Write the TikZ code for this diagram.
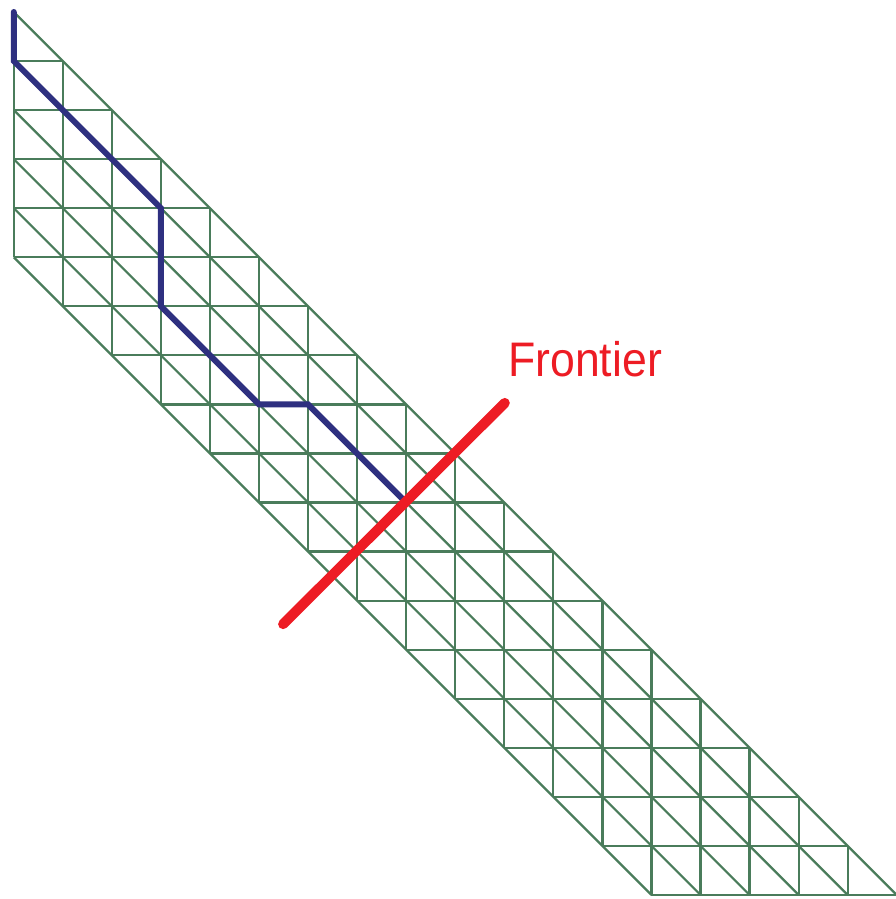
\documentclass[tikz,border=0pt]{standalone}
\usepackage{fontspec}
\setmainfont{Liberation Sans}
\definecolor{gridgreen}{RGB}{74,124,91}
\definecolor{pathblue}{RGB}{46,48,128}
\definecolor{frontred}{RGB}{237,28,36}
\tikzset{
  gridline/.style={draw=gridgreen, line width=2.2pt},
  pathline/.style={draw=pathblue, line width=6pt, line cap=round},
  frontline/.style={draw=frontred, line width=10pt, line cap=round},
  labeltext/.style={text=frontred, font=\fontsize{48.5}{50}\selectfont, inner sep=0pt, anchor=base west, xscale=0.92}
}
\begin{document}
\begin{tikzpicture}
\useasboundingbox (0pt,0pt) rectangle (896pt,-899pt);
\begin{scope}[shift={(13.8pt,-12pt)}, x=49.05pt, y=-49.05pt]
  % horizontal lines
  \foreach \j in {1,...,18}{
    \pgfmathtruncatemacro{\a}{max(0,\j-5)}
    \pgfmathtruncatemacro{\b}{min(\j,18)}
    \draw[gridline] (\a,\j) -- (\b,\j);
  }
  % vertical lines
  \foreach \i in {0,...,17}{
    \pgfmathtruncatemacro{\b}{min(\i+5,18)}
    \draw[gridline] (\i,\i) -- (\i,\b);
  }
  % diagonals
  \foreach \k in {0,...,5}{
    \pgfmathtruncatemacro{\e}{18-\k}
    \draw[gridline] (0,\k) -- (\e,18);
  }
  % path
  \coordinate (p0) at (0,0);
  \coordinate (p1) at (0,1);
  \coordinate (p2) at (3,4);
  \coordinate (p3) at (3,6);
  \coordinate (p4) at (5,8);
  \coordinate (p5) at (6,8);
  \coordinate (p6) at (8,10);
  \draw[pathline] (p0) -- (p1) -- (p2) -- (p3) -- (p4) -- (p5) -- (p6);
  % frontier
  \coordinate (f0) at (5.49,12.48);
  \coordinate (f1) at (10.01,7.97);
  \draw[frontline] (f0) -- (f1);
\end{scope}
\node[labeltext] (frontier) at (508pt,-376pt) {Frontier};
\end{tikzpicture}
\end{document}
